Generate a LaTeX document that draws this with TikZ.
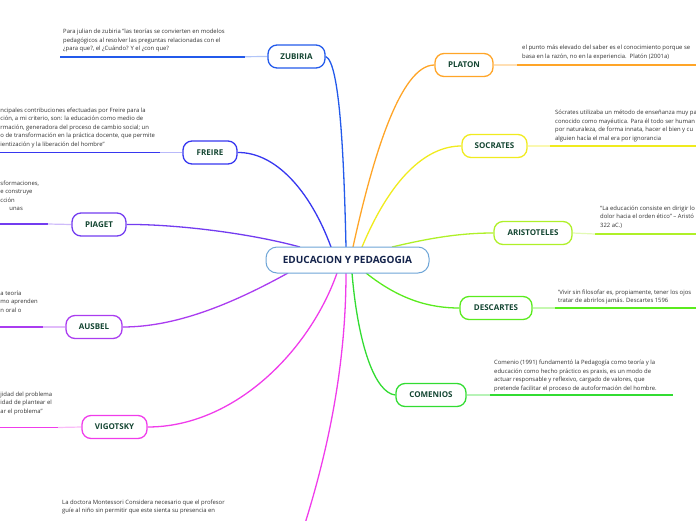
\documentclass[tikz,border=0pt]{standalone}
\usepackage{fontspec}
\setmainfont{Open Sans}
\usetikzlibrary{backgrounds}
\definecolor{czub}{RGB}{35,90,235}
\definecolor{cfre}{RGB}{55,55,240}
\definecolor{cpia}{RGB}{115,60,240}
\definecolor{caus}{RGB}{170,60,240}
\definecolor{cvig}{RGB}{240,60,235}
\definecolor{cpla}{RGB}{255,165,40}
\definecolor{csoc}{RGB}{240,235,30}
\definecolor{cari}{RGB}{175,240,40}
\definecolor{cdes}{RGB}{90,235,30}
\definecolor{ccom}{RGB}{50,220,50}
\definecolor{cborder}{RGB}{110,165,215}
\definecolor{ctext}{RGB}{20,35,75}
\definecolor{ntext}{RGB}{20,70,50}
\definecolor{dtext}{RGB}{50,50,50}
\begin{document}
\begin{tikzpicture}[x=1pt,y=-1pt,
  branch/.style={draw=#1, line width=1.3pt, rounded corners=9pt, fill=white,
    font=\bfseries\fontsize{8}{9}\selectfont, text=ntext, minimum height=23pt, inner xsep=4pt},
  desc/.style={anchor=north west, inner sep=0pt, align=left,
    font=\fontsize{5.9}{8.5}\selectfont, text=dtext},
  conn/.style={draw=#1, line width=1.3pt},
  uline/.style={draw=#1, line width=1.8pt},
  ulight/.style={draw=#1!35, line width=1.2pt}]
\useasboundingbox (0,0) rectangle (696,520);
\clip (0,0) rectangle (696,520);

% center
\node[draw=cborder, line width=1pt, rounded corners=11pt, fill=white, minimum width=163pt,
  minimum height=26pt, font=\bfseries\fontsize{10}{11}\selectfont, text=ctext] (c) at (347.5,260) {EDUCACION Y PEDAGOGIA};

% branch nodes
\node[branch=czub, minimum width=57pt] (zub) at (296.5,56.5) {ZUBIRIA};
\node[branch=cfre, minimum width=54pt] (fre) at (210,152.5) {FREIRE};
\node[branch=cpia, minimum width=54pt] (pia) at (99,224.5) {PIAGET};
\node[branch=caus, minimum width=56pt] (aus) at (94,327) {AUSBEL};
\node[branch=cvig, minimum width=65pt] (vig) at (114.5,427) {VIGOTSKY};
\node[branch=cpla, minimum width=58pt] (pla) at (464,65) {PLATON};
\node[branch=csoc, minimum width=65pt] (soc) at (494.5,146) {SOCRATES};
\node[branch=cari, minimum width=78pt] (ari) at (533,233) {ARISTOTELES};
\node[branch=cdes, minimum width=72pt] (des) at (496,308) {DESCARTES};
\node[branch=ccom, minimum width=70pt] (com) at (431,395) {COMENIOS};

% descriptive texts
\node[desc] (tzub) at (63,29) {Para julian de zubiria "las teorías se convierten en modelos\\pedagógicos al resolver las preguntas relacionadas con el\\¿para que?, el ¿Cuándo? Y el ¿con que?};
\node[desc] (tfre) at (0.3,107.7) {ncipales contribuciones efectuadas por Freire para la\\ción, a mi criterio, son: la educación como medio de\\rmación, generadora del proceso de cambio social; un\\o de transformación en la práctica docente, que permite\\ientización y la liberación del hombre"};
\node[desc] (tpia) at (0.3,180.7) {sformaciones,\\e construye\\cción\\\hspace*{9pt}unas};
\node[desc] (taus) at (0.3,290.7) {a teoría\\mo aprenden\\n oral o};
\node[desc] (tvig) at (0.3,391.7) {jidad del problema\\idad de plantear el\\ar el problema"};
\node[desc] (tpla) at (522,45.2) {el punto más elevado del saber es el conocimiento porque se\\basa en la razón, no en la experiencia.\ \ Platón (2001a)};
\node[desc] (tsoc) at (555,110) {Sócrates utilizaba un método de enseñanza muy pa\\conocido como mayéutica. Para él todo ser human\\por naturaleza, de forma innata, hacer el bien y cu\\alguien hacía el mal era por ignorancia};
\node[desc] (tari) at (600,205.7) {“La educación consiste en dirigir lo\\dolor hacia el orden ético” – Aristó\\322 aC.)};
\node[desc] (tdes) at (558,289.4) {'Vivir sin filosofar es, propiamente, tener los ojos\\tratar de abrirlos jamás. Descartes 1596};
\node[desc] (tcom) at (494,360) {Comenio (1991) fundamentó la Pedagogía como teoría y la\\educación como hecho práctico es praxis, es un modo de\\actuar responsable y reflexivo, cargado de valores, que\\pretende facilitar el proceso de autoformación del hombre.};
\node[desc] (tmon) at (62,499.7) {La doctora Montessori Considera necesario que el profesor\\guíe al niño sin permitir que este sienta su presencia en};

% underline coordinates
\coordinate (uzub1) at (60,56.7);  \coordinate (uzub2) at (245,56.7);
\coordinate (ufre1) at (-2,152.5); \coordinate (ufre2) at (160,152.5);
\coordinate (upia1) at (-2,224);   \coordinate (upia2) at (48,224);
\coordinate (uaus1) at (-2,327);   \coordinate (uaus2) at (43,327);
\coordinate (uvig1) at (-2,427.5); \coordinate (uvig2) at (58,427.5);
\coordinate (upla1) at (517,65);   \coordinate (upla2) at (700,65);
\coordinate (usoc1) at (550,146);  \coordinate (usoc2) at (700,146);
\coordinate (uari1) at (595,234);  \coordinate (uari2) at (700,234);
\coordinate (udes1) at (555,308);  \coordinate (udes2) at (700,308);
\coordinate (ucom1) at (490,395);  \coordinate (ucom2) at (673,395);

% center anchor points
\coordinate (szub) at (346,247);
\coordinate (sfre) at (331,247);
\coordinate (spia) at (300,247);
\coordinate (saus) at (288,273);
\coordinate (svig) at (337,273);
\coordinate (smon) at (346,273);
\coordinate (spla) at (353,247);
\coordinate (ssoc) at (362,247);
\coordinate (sari) at (392,247);
\coordinate (sdes) at (366,273);
\coordinate (scom) at (352,273);
\coordinate (emon) at (298,545);

\begin{scope}[on background layer]
\draw[conn=czub] (szub) .. controls (344,160) and (340,62) .. (zub.east);
\draw[conn=cfre] (sfre) .. controls (310,190) and (275,152) .. (fre.east);
\draw[conn=cpia] (spia) .. controls (245,232) and (170,224) .. (pia.east);
\draw[conn=caus] (saus) .. controls (230,305) and (175,327) .. (aus.east);
\draw[conn=cvig] (svig) .. controls (310,350) and (235,427) .. (vig.east);
\draw[conn=cvig] (smon) .. controls (346,360) and (330,450) .. (emon);
\draw[conn=cpla] (spla) .. controls (372,160) and (400,65) .. (pla.west);
\draw[conn=csoc] (ssoc) .. controls (390,180) and (425,146) .. (soc.west);
\draw[conn=cari] (sari) .. controls (430,238) and (460,233) .. (ari.west);
\draw[conn=cdes] (sdes) .. controls (400,300) and (430,308) .. (des.west);
\draw[conn=ccom] (scom) .. controls (358,345) and (375,393) .. (com.west);

\draw[uline=czub] (uzub1) -- (uzub2);  \draw[ulight=czub] (uzub2) -- (zub.west);
\draw[uline=cfre] (ufre1) -- (ufre2);  \draw[ulight=cfre] (ufre2) -- (fre.west);
\draw[uline=cpia] (upia1) -- (upia2);  \draw[ulight=cpia] (upia2) -- (pia.west);
\draw[uline=caus] (uaus1) -- (uaus2);  \draw[ulight=caus] (uaus2) -- (aus.west);
\draw[uline=cvig] (uvig1) -- (uvig2);  \draw[ulight=cvig] (uvig2) -- (vig.west);
\draw[uline=cpla] (upla1) -- (upla2);  \draw[ulight=cpla] (pla.east) -- (upla1);
\draw[uline=csoc] (usoc1) -- (usoc2);  \draw[ulight=csoc] (soc.east) -- (usoc1);
\draw[uline=cari] (uari1) -- (uari2);  \draw[ulight=cari] (ari.east) -- (uari1);
\draw[uline=cdes] (udes1) -- (udes2);  \draw[ulight=cdes] (des.east) -- (udes1);
\draw[uline=ccom] (ucom1) -- (ucom2);  \draw[ulight=ccom] (com.east) -- (ucom1);
\end{scope}
\end{tikzpicture}
\end{document}
